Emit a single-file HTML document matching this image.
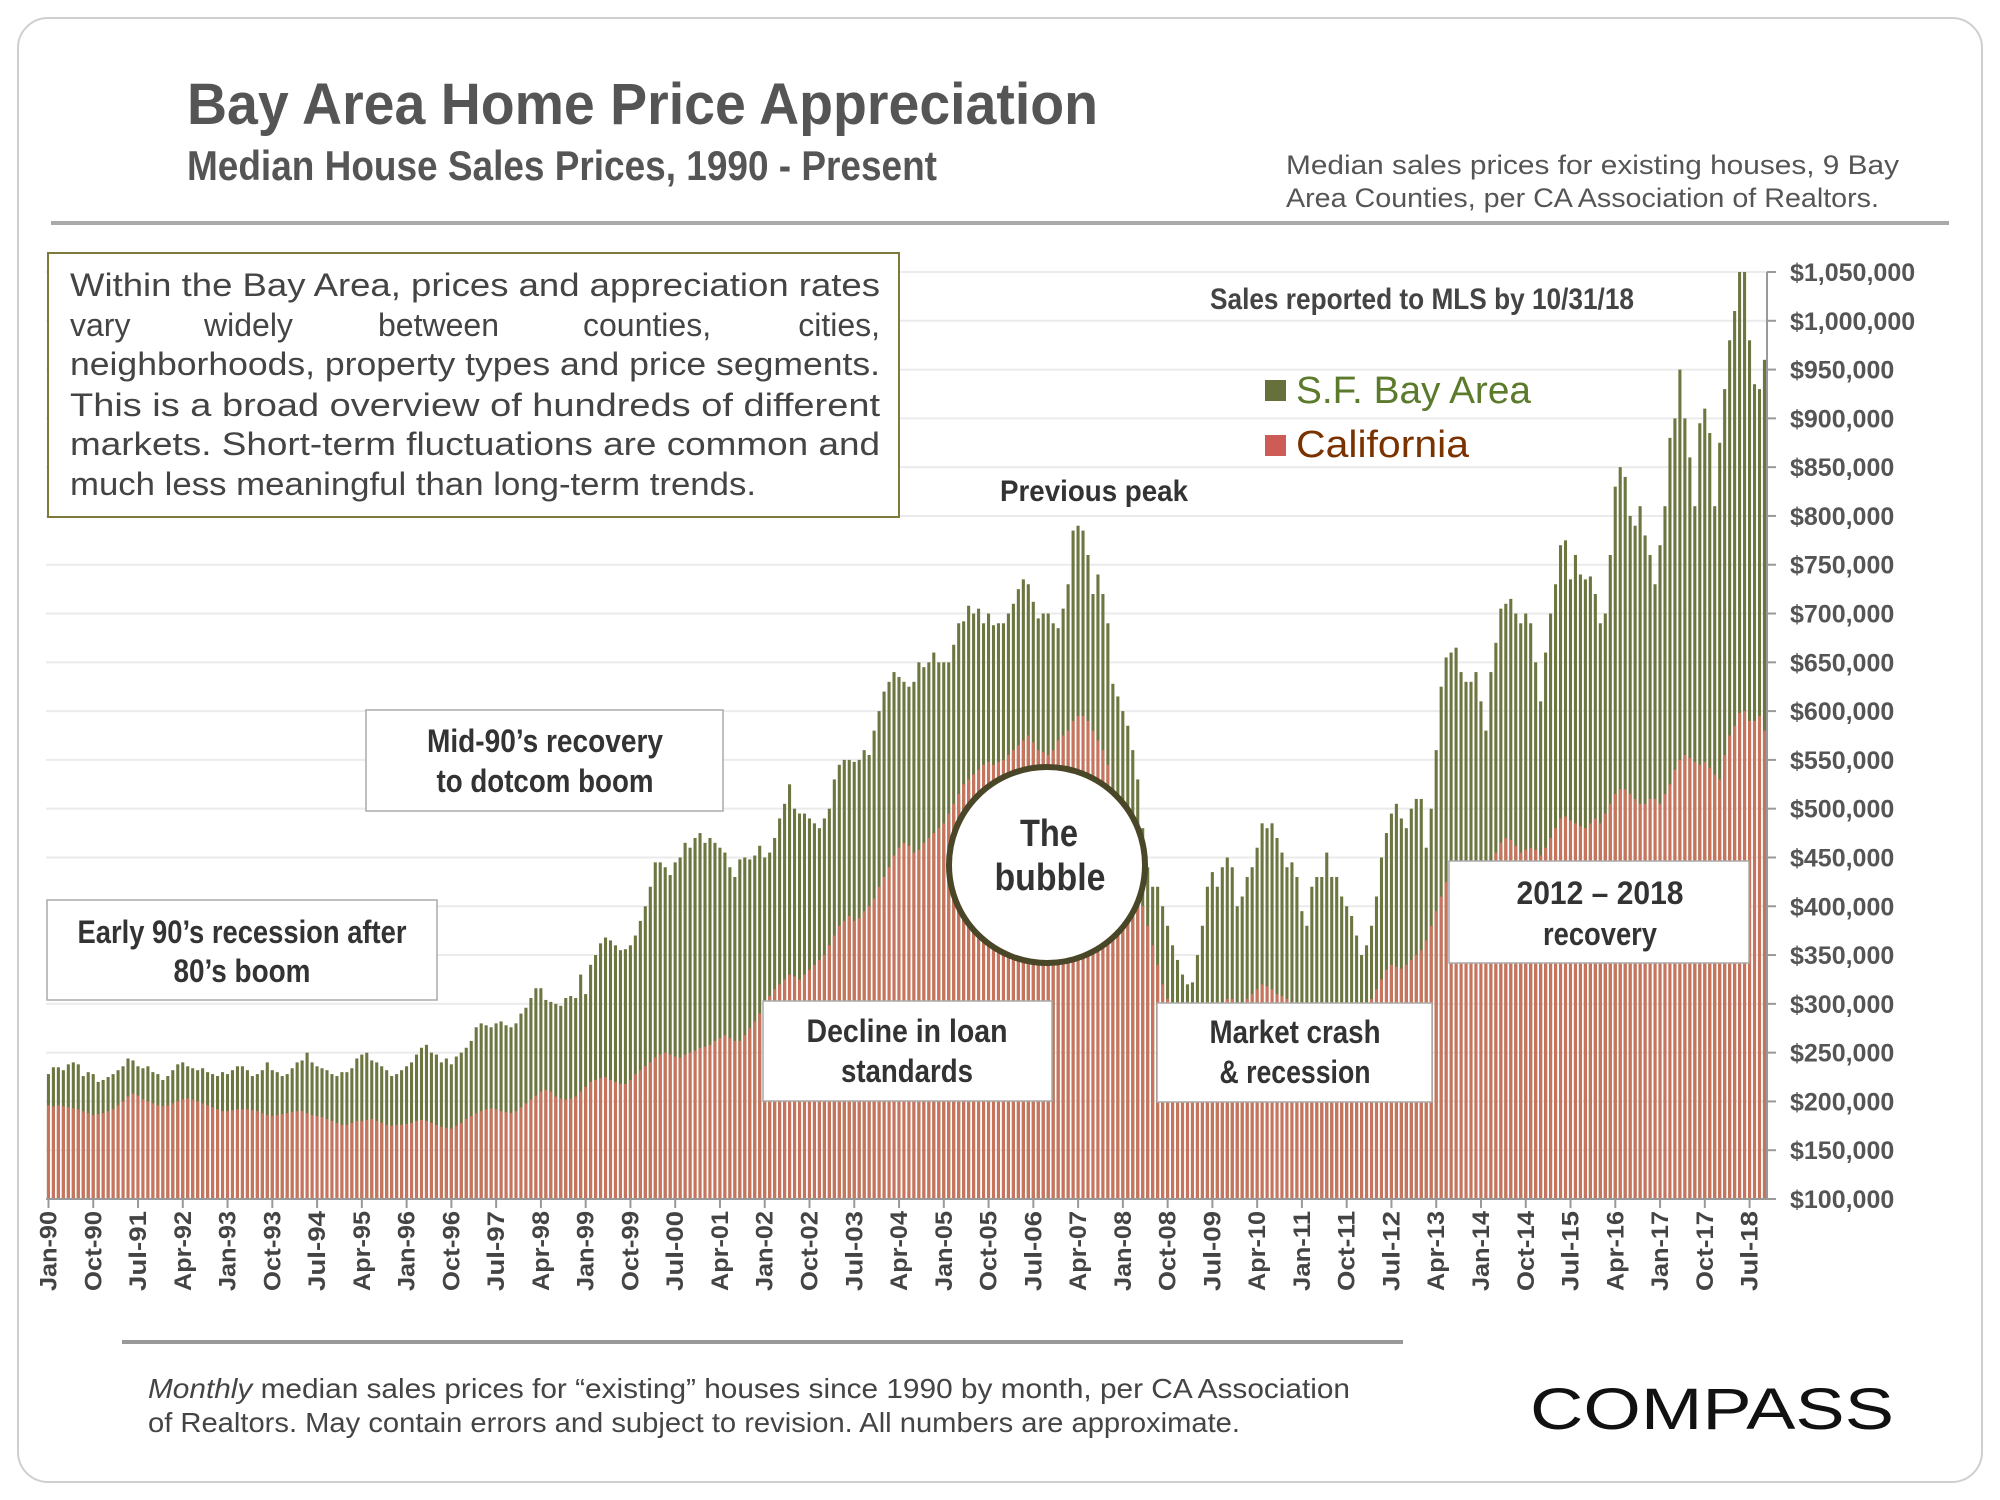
<!DOCTYPE html>
<html><head><meta charset="utf-8"><style>
html,body{margin:0;padding:0;background:#fff;}
svg{display:block;font-family:"Liberation Sans",sans-serif;}
.b{font-weight:bold;}
</style></head><body>
<svg id="chart" width="2000" height="1500" viewBox="0 0 2000 1500" xmlns="http://www.w3.org/2000/svg">
<rect x="18" y="18" width="1964" height="1464" rx="30" fill="#fff" stroke="#cfcfcf" stroke-width="2"/>
<text class="b" x="187" y="124" font-size="58" fill="#555" textLength="911" lengthAdjust="spacingAndGlyphs">Bay Area Home Price Appreciation</text>
<text class="b" x="187" y="180" font-size="42" fill="#555" textLength="750" lengthAdjust="spacingAndGlyphs">Median House Sales Prices, 1990 - Present</text>
<text x="1286" y="174" font-size="27" fill="#555" textLength="613" lengthAdjust="spacingAndGlyphs">Median sales prices for existing houses, 9 Bay</text>
<text x="1286" y="207" font-size="27" fill="#555" textLength="593" lengthAdjust="spacingAndGlyphs">Area Counties, per CA Association of Realtors.</text>
<line x1="51" y1="223" x2="1949" y2="223" stroke="#aaa" stroke-width="4"/>
<g id="grid"></g>
<g id="bars"></g>
<g id="yaxis"></g>
<g id="xaxis"></g>

<g>
<rect x="48" y="253" width="851" height="264" fill="#fff" stroke="#7d7a3c" stroke-width="2"/>
<g font-size="32" fill="#444">
<text x="70" y="296" textLength="810" lengthAdjust="spacingAndGlyphs">Within the Bay Area, prices and appreciation rates</text>
<text x="70" y="336">vary</text><text x="204" y="336">widely</text><text x="378" y="336">between</text><text x="583" y="336">counties,</text><text x="880" y="336" text-anchor="end">cities,</text>
<text x="70" y="375" textLength="810" lengthAdjust="spacingAndGlyphs">neighborhoods, property types and price segments.</text>
<text x="70" y="416" textLength="810" lengthAdjust="spacingAndGlyphs">This is a broad overview of hundreds of different</text>
<text x="70" y="455" textLength="810" lengthAdjust="spacingAndGlyphs">markets. Short-term fluctuations are common and</text>
<text x="70" y="495" textLength="686" lengthAdjust="spacingAndGlyphs">much less meaningful than long-term trends.</text>
</g></g>

<text class="b" x="1210" y="309" font-size="30" fill="#444" textLength="424" lengthAdjust="spacingAndGlyphs">Sales reported to MLS by 10/31/18</text>
<g>
<rect x="1265" y="380" width="21" height="21" fill="#66703a"/>
<text x="1296" y="403" font-size="38" fill="#5b7a2b" textLength="235" lengthAdjust="spacingAndGlyphs">S.F. Bay Area</text>
<rect x="1265" y="435" width="21" height="21" fill="#cc5c55"/>
<text x="1296" y="457" font-size="38" fill="#7a3300" textLength="173" lengthAdjust="spacingAndGlyphs">California</text>
</g>
<text class="b" x="1000" y="501" font-size="30" fill="#333" textLength="188" lengthAdjust="spacingAndGlyphs">Previous peak</text>

<g class="b" font-size="32" fill="#333" text-anchor="middle">
<g><rect x="366" y="710" width="357" height="101" fill="#fff" stroke="#aaa" stroke-width="1.5"/>
<text x="545" y="752" textLength="236" lengthAdjust="spacingAndGlyphs">Mid-90’s recovery</text><text x="545" y="792" textLength="217" lengthAdjust="spacingAndGlyphs">to dotcom boom</text></g>
<g><rect x="47" y="900" width="390" height="100" fill="#fff" stroke="#aaa" stroke-width="1.5"/>
<text x="242" y="943" textLength="329" lengthAdjust="spacingAndGlyphs">Early 90’s recession after</text><text x="242" y="982" textLength="137" lengthAdjust="spacingAndGlyphs">80’s boom</text></g>
<g><rect x="763" y="1001" width="289" height="100" fill="#fff" stroke="#aaa" stroke-width="1.5"/>
<text x="907" y="1042" textLength="201" lengthAdjust="spacingAndGlyphs">Decline in loan</text><text x="907" y="1082" textLength="132" lengthAdjust="spacingAndGlyphs">standards</text></g>
<g><rect x="1157" y="1003" width="275" height="99" fill="#fff" stroke="#aaa" stroke-width="1.5"/>
<text x="1295" y="1043" textLength="171" lengthAdjust="spacingAndGlyphs">Market crash</text><text x="1295" y="1083" textLength="151" lengthAdjust="spacingAndGlyphs">&amp; recession</text></g>
<g><rect x="1449" y="861" width="300" height="102" fill="#fff" stroke="#aaa" stroke-width="1.5"/>
<text x="1600" y="904" textLength="167" lengthAdjust="spacingAndGlyphs">2012 – 2018</text><text x="1600" y="945" textLength="114" lengthAdjust="spacingAndGlyphs">recovery</text></g>
<g><circle cx="1047" cy="865" r="98" fill="#fff" stroke="#4a4628" stroke-width="6"/>
<text x="1049" y="846" font-size="38" textLength="58" lengthAdjust="spacingAndGlyphs">The</text><text x="1050" y="890" font-size="38" textLength="111" lengthAdjust="spacingAndGlyphs">bubble</text></g>
</g>

<line x1="122" y1="1342" x2="1403" y2="1342" stroke="#999" stroke-width="4"/>
<text x="148" y="1398" font-size="28" fill="#444" textLength="1202" lengthAdjust="spacingAndGlyphs"><tspan font-style="italic">Monthly</tspan> median sales prices for “existing” houses since 1990 by month, per CA Association</text>
<text x="148" y="1432" font-size="28" fill="#444" textLength="1092" lengthAdjust="spacingAndGlyphs">of Realtors.  May contain errors and subject to revision. All numbers are approximate.</text>
<text x="1530" y="1429" font-size="58" fill="#111" textLength="364" lengthAdjust="spacingAndGlyphs">COMPASS</text>
</svg>
<script>
const bayArea = [
228,235,235,232,238,240,238,226,230,228,220,222,
225,228,232,236,244,242,236,234,236,230,228,222,
226,232,238,240,236,234,232,234,230,228,226,230,
228,232,236,236,232,226,228,232,240,232,230,226,
228,234,240,242,250,240,236,234,232,228,226,230,
230,234,244,248,250,242,240,236,232,226,228,232,
236,240,248,255,258,250,248,240,244,238,246,250,
255,262,276,280,278,276,280,282,278,276,280,290,
296,306,316,316,304,302,300,298,306,308,306,330,
310,340,350,362,368,365,360,355,356,360,370,385,
400,420,445,445,440,432,445,450,465,460,470,475,
465,470,465,460,455,440,430,448,450,448,452,462,
450,455,470,490,505,525,500,495,495,490,485,480,
490,500,530,545,550,550,548,550,560,555,580,600,
620,630,640,635,630,625,630,650,645,650,660,650,
650,650,668,690,692,708,700,705,690,700,688,690,
690,700,710,725,735,730,712,695,700,700,690,685,
705,730,785,790,785,760,720,740,720,690,628,615,
600,585,560,530,480,440,420,420,400,380,360,345,
330,320,322,350,380,420,435,420,440,450,440,400,
410,430,440,460,485,480,485,470,455,440,445,430,
395,380,420,430,430,455,430,430,410,400,390,370,
350,360,380,410,450,475,495,505,490,480,500,510,
510,460,500,560,625,655,660,665,640,630,630,640,
610,580,640,670,705,710,715,700,690,700,690,650,
610,660,700,730,770,775,735,760,740,735,738,720,
690,700,760,830,850,840,800,790,810,780,760,730,
770,810,880,900,950,900,860,810,895,910,885,810,
875,930,980,1010,1050,1050,980,935,930,960];
const california = [
196,195,196,195,194,193,192,190,188,186,187,188,
190,192,196,200,205,208,206,202,200,198,196,195,
196,198,200,202,203,202,200,198,196,194,192,190,
190,191,192,192,192,191,190,188,186,185,186,187,
188,189,190,190,188,186,185,184,182,180,178,176,
176,178,180,180,181,182,180,178,176,175,176,176,
177,178,180,181,180,178,176,174,173,172,175,178,
182,185,188,190,192,193,192,190,189,188,190,194,
198,202,206,210,212,210,205,203,202,203,205,210,
215,220,222,224,225,222,220,218,218,222,228,232,
236,240,245,248,250,248,246,245,248,250,252,255,
256,258,262,265,268,265,262,262,268,275,282,290,
300,308,315,320,325,330,328,325,330,335,340,345,
350,360,370,380,385,390,385,388,395,400,408,420,
430,440,452,460,465,462,455,458,465,470,475,480,
485,495,505,515,525,530,535,540,545,548,545,548,
550,555,560,565,570,575,568,560,558,555,560,570,
575,580,590,595,595,590,580,570,560,545,520,500,
480,460,440,420,400,380,360,340,320,305,300,295,
285,275,270,272,280,290,295,298,300,305,305,300,
300,305,310,315,320,318,315,310,308,305,300,295,
290,288,292,295,298,300,298,295,292,290,290,290,
292,298,305,315,325,335,340,338,336,340,345,350,
355,365,380,395,410,425,430,432,428,425,425,430,
430,435,445,455,465,470,468,462,455,458,460,458,
452,460,470,480,490,492,488,485,482,480,485,490,
485,495,505,515,520,520,515,510,505,505,510,510,
505,515,525,540,550,555,552,548,545,548,542,535,
530,555,575,585,598,600,590,590,595,580];
const yTicks = [100,150,200,250,300,350,400,450,500,550,600,650,700,750,800,850,900,950,1000,1050];
const monthNames = ["Jan","Feb","Mar","Apr","May","Jun","Jul","Aug","Sep","Oct","Nov","Dec"];
const startYear = 1990;
const xTickEvery = 9;

const NS = "http://www.w3.org/2000/svg";
const X0 = 46, X1 = 1767, Y0 = 1199, YTOP = 272, VMIN = 100, VMAX = 1050;
const n = bayArea.length;
const bw = (X1 - X0) / n;
function xPos(i){ return X0 + bw * i; }
function yPos(v){ return Y0 - (v - VMIN) / (VMAX - VMIN) * (Y0 - YTOP); }
function mk(tag, attrs, parent){ const e = document.createElementNS(NS, tag); for (const k in attrs) e.setAttribute(k, attrs[k]); parent.appendChild(e); return e; }

const grid = document.getElementById('grid');
const yaxis = document.getElementById('yaxis');
yTicks.forEach(v => {
  const y = yPos(v);
  if (v > VMIN) {
    const g = mk('line', {x1: X0, x2: X1, y1: y, y2: y, stroke: '#ebebeb', 'stroke-width': 2}, grid);
    
    
  }
  const t = mk('line', {x1: X1, x2: X1 + 9, y1: y, y2: y, stroke: '#999', 'stroke-width': 2}, yaxis);
  
  
  const lb = mk('text', {x: 1790, y: y + 9, 'font-size': 25, 'font-weight': 'bold', fill: '#555'}, yaxis);
  
  
  lb.textContent = '$' + (v * 1000).toLocaleString('en-US');
});
const al = mk('line', {x1: X1, x2: X1, y1: YTOP, y2: Y0, stroke: '#999', 'stroke-width': 2}, yaxis);



const bars = document.getElementById('bars');
for (let i = 0; i < n; i++) {
  const x = xPos(i) + 0.9, w = bw - 1.9;
  const yb = yPos(bayArea[i]);
  const b = mk('rect', {x: x, y: yb, width: w, height: Y0 - yb, fill: '#6b7640'}, bars);
  
  
  const yc = yPos(california[i]);
  const c = mk('rect', {x: x, y: yc, width: w, height: Y0 - yc, fill: '#c8735d'}, bars);
  
  
}

const xaxis = document.getElementById('xaxis');
const bl = mk('line', {x1: X0, x2: X1, y1: Y0, y2: Y0, stroke: '#999', 'stroke-width': 2}, xaxis);


for (let i = 0; i < n; i += xTickEvery) {
  const cx = xPos(i) + bw / 2;
  const tk = mk('line', {x1: cx, x2: cx, y1: Y0, y2: Y0 + 9, stroke: '#999', 'stroke-width': 2}, xaxis);
  
  
  const yr = (startYear + Math.floor(i / 12)) % 100;
  const lbl = monthNames[i % 12] + '-' + String(yr).padStart(2, '0');
  const t = mk('text', {x: 0, y: 0, 'font-size': 24, 'font-weight': 'bold', fill: '#444', 'text-anchor': 'end',
    transform: 'translate(' + (cx + 8) + ',' + (Y0 + 12) + ') rotate(-90)', textLength: 80, lengthAdjust: 'spacingAndGlyphs'}, xaxis);
  
  
  t.textContent = lbl;
}
</script>
</body></html>
